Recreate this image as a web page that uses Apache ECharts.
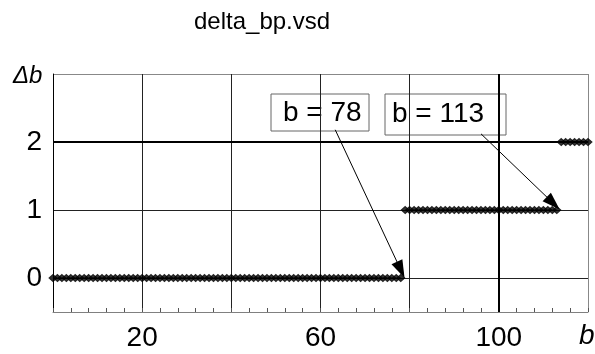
<!DOCTYPE html>
<html>
<head>
<meta charset="utf-8">
<script src="https://cdn.jsdelivr.net/npm/echarts@6/dist/echarts.min.js"></script>
<style>
  html, body { margin: 0; padding: 0; background: #fff; }
  #chart { width: 595px; height: 354px; }
</style>
</head>
<body>
<div id="chart"></div>
<script>
// b values sampled at every integer
const bValues = [
  0, 1, 2, 3, 4, 5, 6, 7, 8, 9, 10, 11, 12, 13, 14, 15, 16, 17, 18, 19,
  20, 21, 22, 23, 24, 25, 26, 27, 28, 29, 30, 31, 32, 33, 34, 35, 36, 37, 38, 39,
  40, 41, 42, 43, 44, 45, 46, 47, 48, 49, 50, 51, 52, 53, 54, 55, 56, 57, 58, 59,
  60, 61, 62, 63, 64, 65, 66, 67, 68, 69, 70, 71, 72, 73, 74, 75, 76, 77, 78,
  79, 80, 81, 82, 83, 84, 85, 86, 87, 88, 89, 90, 91, 92, 93, 94, 95, 96, 97, 98, 99,
  100, 101, 102, 103, 104, 105, 106, 107, 108, 109, 110, 111, 112, 113,
  114, 115, 116, 117, 118, 119, 120
];
// delta b for each b above
const deltaB = [
  0, 0, 0, 0, 0, 0, 0, 0, 0, 0, 0, 0, 0, 0, 0, 0, 0, 0, 0, 0,
  0, 0, 0, 0, 0, 0, 0, 0, 0, 0, 0, 0, 0, 0, 0, 0, 0, 0, 0, 0,
  0, 0, 0, 0, 0, 0, 0, 0, 0, 0, 0, 0, 0, 0, 0, 0, 0, 0, 0, 0,
  0, 0, 0, 0, 0, 0, 0, 0, 0, 0, 0, 0, 0, 0, 0, 0, 0, 0, 0,
  1, 1, 1, 1, 1, 1, 1, 1, 1, 1, 1, 1, 1, 1, 1, 1, 1, 1, 1, 1, 1,
  1, 1, 1, 1, 1, 1, 1, 1, 1, 1, 1, 1, 1, 1,
  2, 2, 2, 2, 2, 2, 2
];
const xLabelValues = [20, 60, 100];
const yLabelValues = [0, 1, 2];
// the last b of each step level
const breakpoints = [78, 113];
const stepLevels = [0, 1];

const FONT = 'Liberation Sans';
const chart = echarts.init(document.getElementById('chart'), null, { renderer: 'canvas' });
const points = bValues.map((b, i) => [b, deltaB[i]]);

const option = {
  animation: false,
  backgroundColor: '#fff',
  title: {
    text: 'delta_bp.vsd',
    left: 189,
    top: 5,
    textStyle: { fontFamily: FONT, fontSize: 24, fontWeight: 'normal', color: '#000' }
  },
  grid: { left: 53, right: 7, top: 74, bottom: 42 },
  xAxis: {
    type: 'value',
    min: 0,
    max: 120,
    interval: 20,
    axisLine: { show: true, onZero: false, lineStyle: { color: '#808080', width: 1 } },
    axisTick: { show: true, inside: true, length: 4, lineStyle: { color: '#555' } },
    minorTick: { show: true, splitNumber: 5, length: 4, lineStyle: { color: '#555' } },
    axisLabel: {
      formatter: v => (xLabelValues.includes(v) ? String(v) : ''),
      fontFamily: FONT, fontSize: 28, color: '#000', margin: 12
    },
    splitLine: {
      show: true,
      lineStyle: { color: ['#000', '#222', '#222', '#222', '#222', '#000', '#888'], width: 1 }
    }
  },
  yAxis: {
    type: 'value',
    min: -0.5,
    max: 3,
    interval: 0.5,
    axisLine: { show: true, onZero: false, lineStyle: { color: '#000', width: 1 } },
    axisTick: { show: false },
    axisLabel: {
      formatter: v => (yLabelValues.includes(v) ? String(v) : ''),
      fontFamily: FONT, fontSize: 28, color: '#000', margin: 11
    },
    splitLine: {
      show: true,
      lineStyle: {
        color: ['#808080', '#222', 'rgba(0,0,0,0)', '#222', 'rgba(0,0,0,0)', '#000', 'rgba(0,0,0,0)', '#888'],
        width: 1
      }
    }
  },
  series: [
    {
      type: 'scatter',
      data: points,
      symbol: 'diamond',
      symbolSize: [8, 7],
      itemStyle: { color: '#000', borderColor: '#000', borderWidth: 1 },
      clip: false,
      z: 5,
      markLine: {
        silent: true,
        animation: false,
        symbol: ['none', 'none'],
        label: { show: false },
        lineStyle: { color: '#000', width: 2, type: 'solid' },
        data: [
          { yAxis: 2, symbol: 'none' },
          { xAxis: 100, symbol: 'none' },
          [
            { coord: [63.3, 2.18], symbol: 'none', lineStyle: { width: 1, color: '#000' } },
            { coord: [breakpoints[0], stepLevels[0] + 0.12], symbol: 'triangle', symbolSize: [12, 18] }
          ],
          [
            { coord: [96.0, 2.12], symbol: 'none', lineStyle: { width: 1, color: '#000' } },
            { coord: [breakpoints[1] - 0.8, stepLevels[1] + 0.1], symbol: 'triangle', symbolSize: [12, 18] }
          ]
        ]
      }
    }
  ],
  graphic: [
    {
      type: 'group', z: 100,
      children: [
        { type: 'rect', shape: { x: 271, y: 94, width: 98, height: 37 },
          style: { fill: '#fff', stroke: '#666', lineWidth: 1 } },
        { type: 'text', x: 283, y: 113,
          style: { text: 'b = ' + breakpoints[0], fontFamily: FONT, fontSize: 28, fill: '#000', verticalAlign: 'middle' } },
        { type: 'rect', shape: { x: 385, y: 94, width: 121, height: 41 },
          style: { fill: '#fff', stroke: '#666', lineWidth: 1 } },
        { type: 'text', x: 392, y: 114,
          style: { text: 'b = ' + breakpoints[1], fontFamily: FONT, fontSize: 28, fill: '#000', verticalAlign: 'middle' } },
        { type: 'text', x: 13, y: 76,
          style: { text: 'Δb', fontFamily: FONT, fontSize: 24, fontStyle: 'italic', fill: '#000', verticalAlign: 'middle' } },
        { type: 'text', x: 579, y: 336,
          style: { text: 'b', fontFamily: FONT, fontSize: 28, fontStyle: 'italic', fill: '#000', verticalAlign: 'middle' } }
      ]
    }
  ]
};

chart.setOption(option);
</script>
</body>
</html>
